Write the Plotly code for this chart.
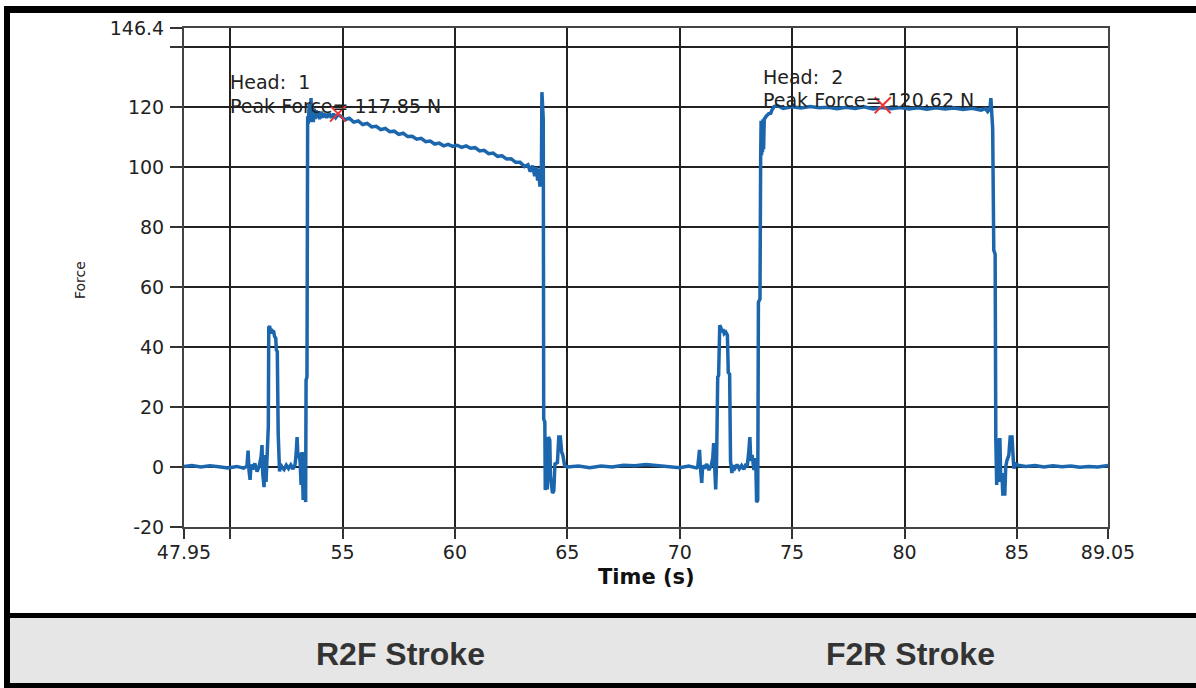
import plotly.graph_objects as go

# ---- data (time in s, force in N) ----
r2f_samples = [
    (47.95, 0.2), (48.30, 0.5), (48.70, 0.0), (49.10, 0.4), (49.50, 0.1), (49.90, -0.3),
    (50.30, 0.2), (50.60, -0.4), (50.75, 0.3),
    (50.80, 5.5), (50.84, -1.0), (50.89, -4.3), (50.93, 0.8), (51.00, -0.8), (51.10, 1.2),
    (51.20, -1.5), (51.30, 0.5), (51.38, 3.5), (51.42, 7.3), (51.45, -2.0), (51.51, -6.7),
    (51.56, 4.0), (51.60, -5.0), (51.65, 5.5), (51.67, 13.3), (51.70, 13.5),
    (51.72, 46.5), (51.76, 47.0), (51.80, 44.5), (51.84, 46.0), (51.88, 45.0), (51.93, 45.5),
    (51.98, 43.5), (52.03, 43.0), (52.06, 39.0), (52.10, 38.5), (52.14, 11.0), (52.16, 2.0),
    (52.20, -1.5), (52.24, 1.0), (52.30, 0.0), (52.40, -0.8), (52.50, 0.6), (52.60, -0.5),
    (52.70, 0.7), (52.80, -0.7), (52.89, 0.8),
    (52.94, 4.5), (52.98, 10.0), (53.02, 3.0), (53.07, 4.7), (53.11, 2.0), (53.16, -6.0),
    (53.20, 5.0), (53.25, -11.0), (53.30, 5.0), (53.36, -11.7), (53.38, 29.0), (53.42, 30.0),
    (53.45, 117.0), (53.48, 114.5), (53.52, 121.0), (53.56, 115.0), (53.60, 123.0),
    (53.63, 115.5), (53.66, 120.0), (53.70, 115.0), (53.74, 119.5), (53.78, 116.0),
    (53.82, 119.0), (53.86, 116.5), (53.92, 118.5), (53.98, 116.0), (54.05, 118.5),
    (54.12, 116.5), (54.20, 118.0), (54.30, 116.5), (54.40, 118.0), (54.50, 116.5),
    (54.60, 117.8), (54.70, 116.5), (54.80, 117.5),
    (54.95, 116.9), (55.10, 115.8), (55.30, 116.3), (55.50, 115.0), (55.70, 115.4),
    (55.90, 114.2), (56.10, 114.6), (56.30, 113.4), (56.50, 113.6), (56.70, 112.5),
    (56.90, 112.9), (57.10, 111.8), (57.30, 112.0), (57.50, 110.9), (57.70, 111.3),
    (57.90, 110.2), (58.10, 110.3), (58.30, 109.3), (58.50, 109.6), (58.70, 108.5),
    (58.90, 108.7), (59.10, 107.7), (59.30, 108.0), (59.50, 107.1), (59.70, 107.6),
    (59.90, 106.9), (60.10, 107.3), (60.30, 106.6), (60.50, 107.1), (60.70, 106.3),
    (60.90, 106.5), (61.10, 105.4), (61.30, 105.6), (61.50, 104.5), (61.70, 104.7),
    (61.90, 103.6), (62.10, 103.8), (62.30, 102.7), (62.50, 102.8), (62.70, 101.6),
    (62.90, 101.6), (63.10, 100.2), (63.25, 100.8), (63.35, 98.5), (63.45, 100.5),
    (63.55, 97.0), (63.62, 100.0), (63.68, 95.5), (63.73, 99.5), (63.78, 93.5),
    (63.82, 98.5), (63.85, 101.0),
    (63.87, 125.0), (63.89, 118.0), (63.93, 116.0), (63.95, 16.0), (64.00, 15.0),
    (64.02, -7.7), (64.06, 3.0), (64.11, -7.5), (64.16, 10.0), (64.22, 9.0), (64.25, -3.0),
    (64.34, -8.7), (64.40, -8.0), (64.45, 1.0), (64.56, 1.5), (64.62, 10.0), (64.69, 10.0),
    (64.75, 5.0), (64.80, 4.0), (64.88, 0.5), (65.00, 0.0),
    (65.50, 0.3), (66.00, -0.2), (66.50, 0.3), (67.00, 0.0), (67.50, 0.6), (68.00, 0.4),
    (68.50, 0.8), (69.00, 0.5), (69.50, 0.1), (70.00, -0.2), (70.40, 0.3), (70.75, -0.3),
]

f2r_samples = [
    (70.80, 0.0), (70.88, 5.7), (70.93, -1.0), (70.98, -5.3), (71.02, 0.5), (71.10, -0.5),
    (71.20, 1.0), (71.30, -1.0), (71.40, 0.5), (71.47, 3.0), (71.51, 8.0), (71.55, -2.0),
    (71.60, -7.5), (71.64, 2.0), (71.69, 30.0), (71.73, 30.5), (71.78, 47.3), (71.83, 46.5),
    (71.88, 45.0), (71.93, 46.0), (71.98, 44.5), (72.05, 45.0), (72.12, 44.0), (72.16, 31.5),
    (72.22, 31.0), (72.26, 2.0), (72.32, -2.0), (72.36, 0.5), (72.45, -0.5), (72.55, 0.8),
    (72.65, -0.6), (72.75, 0.5), (72.85, -0.8), (72.95, 1.0), (73.00, 0.0), (73.07, 5.0),
    (73.12, 10.0), (73.16, 2.0), (73.22, 4.0), (73.30, -1.0), (73.38, 3.0), (73.42, -11.7),
    (73.47, -11.0), (73.50, 55.0), (73.57, 56.0), (73.60, 103.0), (73.62, 115.5),
    (73.64, 104.0), (73.66, 115.5), (73.68, 105.0), (73.70, 116.0), (73.73, 106.0),
    (73.76, 116.0), (73.80, 116.5), (73.85, 117.0), (73.95, 117.8), (74.05, 118.0),
    (74.10, 119.0), (74.20, 120.2), (74.35, 120.5), (74.50, 120.0), (74.60, 119.6),
    (75.00, 120.1), (75.40, 119.7), (75.80, 120.2), (76.20, 119.8), (76.60, 120.0),
    (77.00, 119.5), (77.40, 120.0), (77.80, 119.6), (78.20, 120.1), (78.60, 119.4),
    (79.00, 119.9), (79.40, 119.5), (79.80, 119.9), (80.20, 119.4), (80.60, 119.8),
    (81.00, 119.3), (81.40, 119.8), (81.80, 119.4), (82.20, 119.7), (82.60, 119.2),
    (83.00, 119.6), (83.40, 119.0), (83.60, 119.5), (83.70, 118.5), (83.80, 119.5),
    (83.84, 123.0), (83.88, 118.0), (83.92, 113.0), (83.97, 72.3), (84.03, 71.0),
    (84.06, 9.0), (84.10, -6.0), (84.13, 8.0), (84.17, 9.5), (84.20, -5.0), (84.24, 9.7),
    (84.28, -4.0), (84.33, -2.0), (84.37, -9.0), (84.46, -9.0), (84.50, 0.0), (84.55, 2.0),
    (84.64, 4.0), (84.70, 10.0), (84.78, 10.0), (84.82, 1.0), (84.86, -0.5), (84.95, 1.0),
    (85.10, 0.5), (85.40, 0.2), (85.80, 0.5), (86.20, 0.0), (86.60, 0.4), (87.00, 0.1),
    (87.40, 0.3), (87.80, -0.1), (88.20, 0.2), (88.60, 0.0), (89.05, 0.5),
]

heads = ["1", "2"]
peak_time = [54.80, 79.03]
peak_force = [117.85, 120.62]
label_time = [49.91, 73.60]

x_tickvals = [47.95, 50, 55, 60, 65, 70, 75, 80, 85, 89.05]
x_ticktext = ["47.95", "", "55", "60", "65", "70", "75", "80", "85", "89.05"]
y_tickvals = [-20, 0, 20, 40, 60, 80, 100, 120, 140, 146.4]
y_ticktext = ["-20", "0", "20", "40", "60", "80", "100", "120", "", "146.4"]
stroke_labels = ["R2F Stroke", "F2R Stroke"]

samples = r2f_samples + f2r_samples
t_vals = [s[0] for s in samples]
f_vals = [s[1] for s in samples]

W, H = 1196, 688
L, R, T, B = 184, 1108, 28, 527


def px(x):
    return (x - L) / (R - L)


def py(y):
    return (B - y) / (B - T)


fig = go.Figure()
fig.add_trace(go.Scatter(
    x=t_vals, y=f_vals, mode="lines",
    line=dict(color="#1b66ad", width=3.5), showlegend=False, hoverinfo="skip",
))
fig.add_trace(go.Scatter(
    x=peak_time, y=peak_force, mode="markers",
    marker=dict(symbol="x-thin", size=16, line=dict(color="#ee3333", width=2)),
    showlegend=False, hoverinfo="skip",
))

tick_font = dict(family="DejaVu Sans, Verdana, sans-serif", size=19, color="#222")
fig.update_xaxes(
    range=[47.95, 89.05], tickmode="array", tickvals=x_tickvals, ticktext=x_ticktext,
    ticks="outside", ticklen=10, tickwidth=2, tickcolor="#333",
    showgrid=True, gridcolor="#222", gridwidth=2,
    showline=True, linecolor="#444", linewidth=2, mirror=True,
    zeroline=False, tickfont=tick_font, ticklabelstandoff=-3,
)
fig.update_yaxes(
    range=[-20, 146.4], tickmode="array", tickvals=y_tickvals, ticktext=y_ticktext,
    ticks="outside", ticklen=12, tickwidth=2, tickcolor="#333",
    showgrid=True, gridcolor="#222", gridwidth=2,
    showline=True, linecolor="#444", linewidth=2, mirror=True,
    zeroline=False, tickfont=tick_font, ticklabelstandoff=2,
)

ann_font = dict(family="DejaVu Sans, Verdana, sans-serif", size=19, color="#222")
annotations = []
for h, lt, pf in zip(heads, label_time, peak_force):
    annotations.append(dict(
        x=lt, y=pf + 10.5 if h == "1" else pf + 9.5, xref="x", yref="y",
        text="Head:  " + h, showarrow=False, xanchor="left", yanchor="middle", font=ann_font,
    ))
    annotations.append(dict(
        x=lt, y=pf + 2.5 if h == "1" else pf + 1.7, xref="x", yref="y",
        text="Peak Force= %.2f N" % pf, showarrow=False, xanchor="left", yanchor="middle",
        font=ann_font,
    ))

annotations.append(dict(
    x=0.5, y=py(577), xref="paper", yref="paper", text="<b>Time (s)</b>", showarrow=False,
    xanchor="center", yanchor="middle",
    font=dict(family="DejaVu Sans, Verdana, sans-serif", size=21, color="#111"),
))
annotations.append(dict(
    x=px(80), y=py(280), xref="paper", yref="paper", text="Force", showarrow=False,
    textangle=-90, xanchor="center", yanchor="middle",
    font=dict(family="DejaVu Sans, Verdana, sans-serif", size=14, color="#222"),
))
for lbl, cx in zip(stroke_labels, [400, 910]):
    annotations.append(dict(
        x=px(cx), y=py(654), xref="paper", yref="paper", text="<b>" + lbl + "</b>",
        showarrow=False, xanchor="center", yanchor="middle",
        font=dict(family="Liberation Sans Narrow, Liberation Sans, Arial, sans-serif",
                  size=32, color="#333"),
    ))

shapes = [
    # grey caption panel
    dict(type="rect", xref="paper", yref="paper", x0=px(4), x1=px(1196), y0=py(617), y1=py(684),
         fillcolor="#e6e6e6", line=dict(width=0), layer="below"),
    # top black bar
    dict(type="rect", xref="paper", yref="paper", x0=px(4), x1=px(1196), y0=py(6), y1=py(13),
         fillcolor="#000", line=dict(width=0), layer="above"),
    # left black bar
    dict(type="rect", xref="paper", yref="paper", x0=px(4), x1=px(10), y0=py(6), y1=py(688),
         fillcolor="#000", line=dict(width=0), layer="above"),
    # separator
    dict(type="rect", xref="paper", yref="paper", x0=px(4), x1=px(1196), y0=py(613), y1=py(618),
         fillcolor="#000", line=dict(width=0), layer="above"),
    # bottom bar
    dict(type="rect", xref="paper", yref="paper", x0=px(4), x1=px(1196), y0=py(683), y1=py(688),
         fillcolor="#000", line=dict(width=0), layer="above"),
]

fig.update_layout(
    width=W, height=H, autosize=False,
    margin=dict(l=L, r=W - R, t=T, b=H - B, pad=0),
    paper_bgcolor="white", plot_bgcolor="white",
    annotations=annotations, shapes=shapes, showlegend=False,
)

fig.write_html("out.html", config={"displayModeBar": False, "responsive": False})
